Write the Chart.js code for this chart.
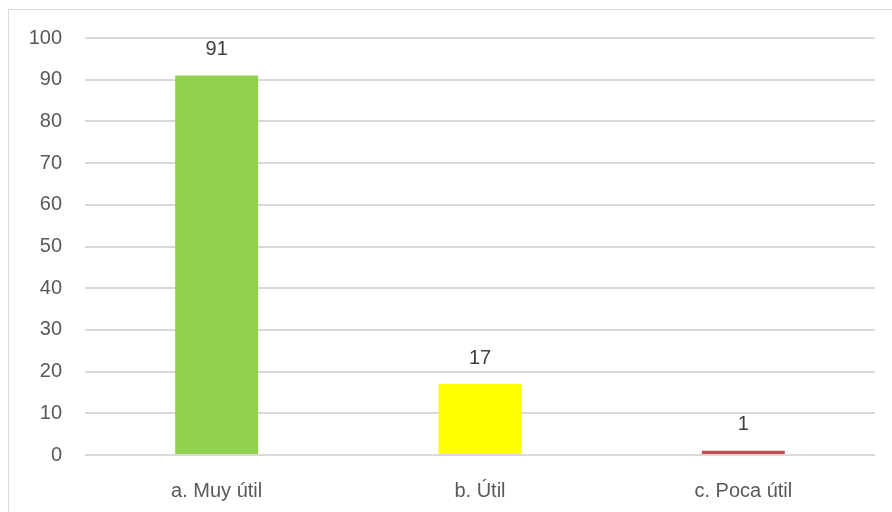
<!DOCTYPE html>
<html>
<head>
<meta charset="utf-8">
<script src="https://cdn.jsdelivr.net/npm/chart.js@4"></script>
<style>
  html, body { margin: 0; padding: 0; background: #fff; }
  #wrap { position: relative; width: 892px; height: 512px; }
  #marco { position: absolute; left: 8px; top: 9px; right: -2px; bottom: -2px; border: 1px solid #d9d9d9; }
</style>
</head>
<body>
<div id="wrap">
  <div id="marco"></div>
  <canvas id="grafico" width="892" height="512"></canvas>
</div>
<script>
const categorias = ['a. Muy útil', 'b. Útil', 'c. Poca útil'];
const valores = [91, 17, 1];
const colores = ['#92d050', '#ffff00', '#c0504d'];
const ticksY = [0, 10, 20, 30, 40, 50, 60, 70, 80, 90, 100];

const fuente = { family: '"Liberation Sans", Arial, sans-serif', size: 20 };

// etiquetas de valor encima de cada barra
const etiquetas = {
  id: 'etiquetas',
  afterDatasetsDraw(chart) {
    const c = chart.ctx;
    const meta = chart.getDatasetMeta(0);
    c.save();
    c.font = fuente.size + 'px ' + fuente.family;
    c.fillStyle = '#404040';
    c.textAlign = 'center';
    c.textBaseline = 'middle';
    meta.data.forEach((bar, i) => {
      c.fillText(String(valores[i]), bar.x, bar.y - 26);
    });
    c.restore();
  }
};

new Chart(document.getElementById('grafico').getContext('2d'), {
  type: 'bar',
  data: {
    labels: categorias,
    datasets: [{
      data: valores,
      backgroundColor: colores,
      borderWidth: 0,
      barPercentage: 0.63,
      categoryPercentage: 0.5
    }]
  },
  options: {
    responsive: false,
    animation: false,
    layout: { padding: { top: 38, right: 17, left: 0, bottom: 0 } },
    plugins: { legend: { display: false }, tooltip: { enabled: false } },
    scales: {
      x: {
        grid: { display: false, drawTicks: false },
        border: { display: false },
        ticks: { color: '#595959', font: fuente, padding: 24 },
        afterFit(s) { s.height = 57; }
      },
      y: {
        min: 0,
        max: 100,
        afterBuildTicks(s) { s.ticks = ticksY.map(v => ({ value: v })); },
        grid: { color: '#d9d9d9', lineWidth: 2, drawTicks: false },
        border: { display: false },
        ticks: { color: '#595959', font: fuente, padding: 23 },
        afterFit(s) { s.width = 85; }
      }
    }
  },
  plugins: [etiquetas]
});
</script>
</body>
</html>
